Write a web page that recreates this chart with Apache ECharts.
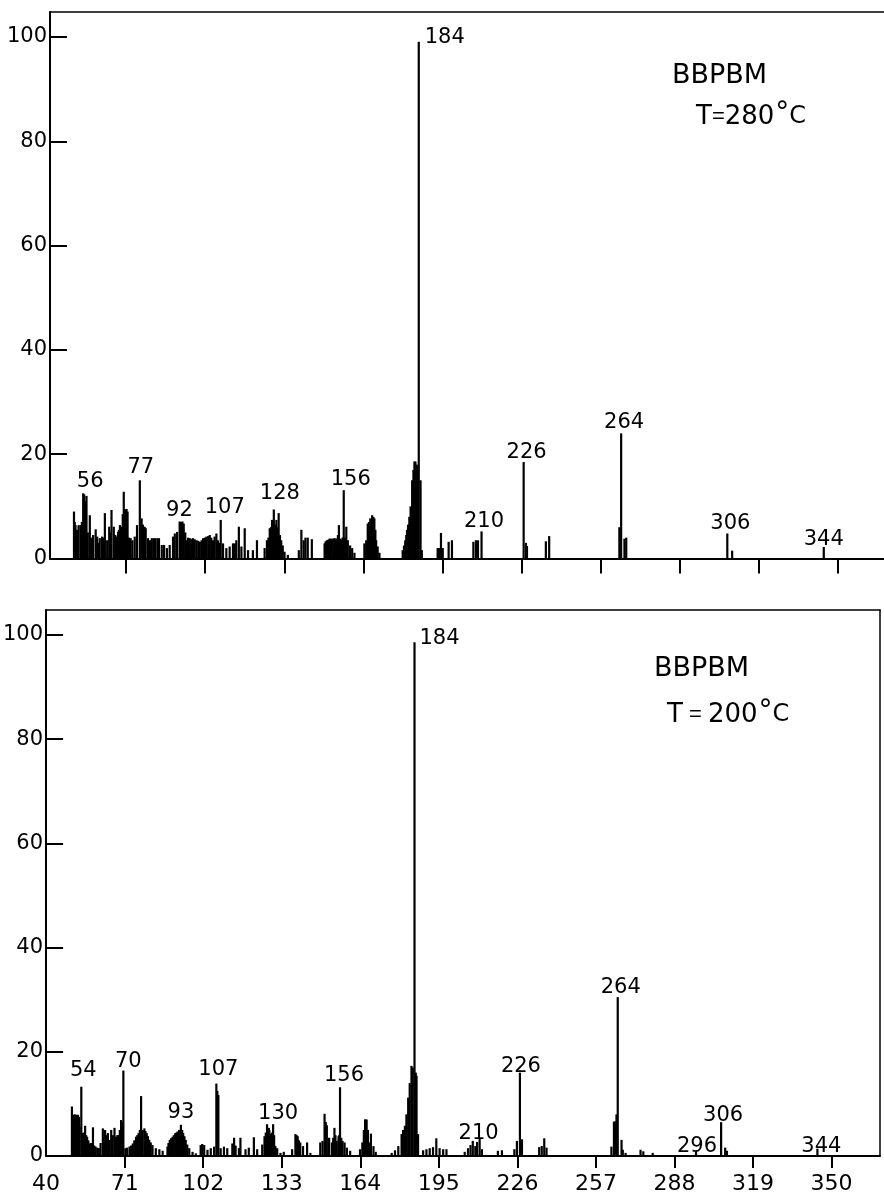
<!DOCTYPE html>
<html><head><meta charset="utf-8">
<script src="https://cdn.jsdelivr.net/npm/echarts@6/dist/echarts.min.js"></script>
<style>html,body{margin:0;padding:0;background:#fff}#c{width:884px;height:1203px}</style>
</head><body><div id="c"></div>
<script>
// ---------- DATA ----------
const xTickValues = [71, 102, 133, 164, 195, 226, 257, 288, 319, 350];
const xLabelValues = [40, 71, 102, 133, 164, 195, 226, 257, 288, 319, 350];
const yTickValues = [0, 20, 40, 60, 80, 100];

// Upper spectrum, T = 280 C (m/z positions as read on the drawn axis, relative intensity)
const topMz = [
  50.6, 50.9, 51.2, 51.8, 52.4, 53.2, 53.7, 54.2, 54.6, 55.0, 55.5, 56.0, 56.8, 57.4, 58.1, 59.1, 59.7, 60.2, 60.7, 61.6,
  62.2, 62.7, 63.6, 64.4, 64.9, 65.3, 66.2, 66.8, 67.3, 67.9, 68.2, 68.6, 69.2, 69.7, 70.1, 70.5, 70.9, 71.2, 71.6, 72.2,
  72.8, 73.5, 74.4, 75.3, 76.4, 77.1, 77.6, 78.0, 78.4, 78.7, 79.6, 80.4, 81.1, 81.9, 82.5, 83.3, 83.9, 85.0, 85.9, 87.0,
  88.1, 89.4, 90.1, 91.0, 92.0, 92.5, 93.1, 93.6, 94.2, 94.7, 95.3, 96.0, 96.6, 97.2, 97.9, 98.6, 99.3, 99.9, 100.6, 101.2,
  101.9, 102.5, 103.2, 103.8, 104.4, 105.1, 105.7, 106.4, 107.0, 107.6, 108.1, 109.0, 110.3, 111.6, 112.9, 113.6, 114.2, 115.2, 116.2, 117.5,
  118.8, 120.7, 122.3, 125.3, 126.2, 126.8, 127.3, 127.8, 128.2, 128.9, 129.4, 129.9, 130.3, 130.8, 131.3, 131.8, 132.4, 133.1, 134.4, 138.7,
  139.7, 140.6, 141.3, 142.2, 143.8, 148.8, 149.2, 149.7, 150.2, 150.7, 151.1, 151.6, 152.2, 152.7, 153.1, 153.6, 154.0, 154.4, 154.9, 155.3,
  155.8, 156.3, 156.8, 157.3, 157.9, 158.8, 159.6, 160.5, 164.4, 165.1, 165.7, 166.2, 166.7, 167.4, 167.9, 168.3, 168.7, 169.0, 169.6, 170.3,
  179.4, 179.9, 180.4, 180.8, 181.1, 181.5, 182.0, 182.5, 183.1, 183.6, 184.0, 184.4, 185.0, 185.7, 186.4, 186.9, 193.1, 193.6, 194.4, 195.1,
  197.4, 198.7, 207.1, 208.1, 208.9, 210.3, 226.8, 227.7, 228.1, 235.5, 236.8, 264.3, 265.0, 266.3, 267.0, 306.6, 308.5, 344.4
];
const topIntensity = [
  9.0, 7.0, 6.4, 5.5, 6.4, 6.4, 7.0, 12.5, 12.3, 11.0, 12.0, 5.0, 8.3, 4.0, 4.5, 5.6, 4.2, 3.0, 3.9, 4.2,
  4.0, 8.7, 3.5, 6.1, 5.0, 9.3, 6.1, 4.5, 4.2, 5.1, 5.5, 6.4, 6.1, 8.5, 12.8, 9.5, 9.3, 9.5, 9.0, 4.0,
  3.9, 3.5, 4.2, 6.4, 15.0, 7.7, 6.5, 6.1, 6.0, 5.8, 3.9, 3.5, 3.9, 3.9, 3.9, 3.9, 3.9, 2.6, 2.6, 2.0,
  2.6, 4.2, 4.8, 5.1, 7.1, 7.0, 7.1, 6.7, 5.0, 3.5, 4.0, 3.9, 3.7, 3.9, 3.7, 3.5, 3.4, 3.2, 3.5, 3.9,
  4.0, 4.2, 4.3, 4.5, 4.0, 3.5, 4.2, 4.8, 3.5, 3.0, 7.4, 2.9, 2.0, 2.3, 2.9, 2.9, 3.5, 6.1, 2.3, 5.8,
  1.6, 1.6, 3.5, 2.0, 3.5, 4.0, 5.8, 6.0, 7.4, 9.4, 6.5, 7.4, 6.0, 8.7, 4.5, 3.5, 2.5, 1.3, 0.7, 1.6,
  5.5, 3.5, 4.0, 4.0, 3.7, 2.9, 3.3, 3.5, 3.6, 3.8, 3.8, 3.8, 3.8, 3.9, 3.8, 3.8, 4.5, 6.4, 3.8, 3.5,
  4.0, 13.1, 4.0, 6.1, 3.5, 2.5, 2.0, 1.1, 2.9, 3.5, 6.7, 7.0, 7.7, 8.3, 8.0, 7.7, 5.5, 3.5, 2.3, 1.1,
  1.6, 2.5, 3.5, 4.5, 5.5, 6.5, 8.0, 10.0, 15.0, 17.0, 18.6, 18.6, 18.0, 99.1, 15.0, 1.6, 2.0, 2.0, 4.9, 2.0,
  3.2, 3.5, 3.2, 3.5, 3.5, 5.2, 18.5, 3.0, 2.4, 3.3, 4.3, 6.0, 24.0, 3.8, 4.0, 4.8, 1.5, 2.2
];
const topPeakLabels = ['56', '77', '92', '107', '128', '156', '184', '210', '226', '264', '306', '344'];
const topPeakLabelMz = [54.6, 76.4, 93.1, 108.1, 128.9, 156.3, 185.7, 210.3, 226.8, 265.0, 306.6, 344.4];

// Lower spectrum, T = 200 C
const bottomMz = [
  50.2, 50.9, 51.3, 51.7, 52.2, 52.6, 53.0, 53.2, 53.9, 54.5, 54.9, 55.4, 55.8, 56.2, 56.7, 57.2, 57.8, 58.5, 59.0, 59.5,
  60.2, 60.8, 61.5, 62.4, 62.9, 63.3, 63.8, 64.4, 65.0, 65.7, 66.3, 67.0, 67.6, 68.1, 68.6, 69.1, 69.6, 70.0, 70.5, 71.3,
  71.9, 72.9, 73.5, 74.2, 74.8, 75.5, 76.0, 76.5, 77.0, 77.5, 78.1, 78.8, 79.2, 79.7, 80.2, 80.7, 81.3, 82.0, 83.3, 84.7,
  86.0, 87.9, 88.3, 88.8, 89.3, 89.9, 90.4, 91.0, 91.5, 91.9, 92.5, 93.2, 93.7, 94.1, 94.6, 95.1, 95.7, 96.5, 97.8, 99.1,
  101.0, 101.6, 102.4, 103.7, 105.0, 106.3, 107.2, 107.6, 108.0, 108.9, 110.2, 111.5, 113.5, 114.2, 114.8, 116.1, 116.7, 118.7, 120.0, 122.0,
  123.3, 125.3, 126.2, 126.7, 127.2, 127.9, 128.1, 128.5, 129.1, 129.6, 130.0, 130.5, 131.2, 132.5, 133.8, 137.1, 138.4, 138.9, 139.3, 139.8,
  140.3, 141.4, 143.0, 144.3, 148.2, 149.1, 149.9, 150.4, 150.8, 151.7, 152.8, 153.3, 153.8, 154.2, 154.7, 155.4, 155.7, 156.0, 156.5, 157.0,
  157.8, 158.7, 160.0, 163.9, 164.8, 165.4, 165.9, 166.0, 166.5, 167.0, 167.4, 168.2, 169.2, 170.1, 176.4, 177.7, 179.0, 180.3, 180.9, 181.6,
  182.2, 182.9, 183.5, 184.2, 184.7, 185.4, 185.9, 186.2, 186.8, 188.8, 190.1, 191.4, 192.7, 194.0, 195.3, 196.7, 198.0, 205.2, 206.5, 207.5,
  208.4, 209.4, 210.1, 211.1, 212.0, 218.3, 219.9, 224.8, 225.8, 227.0, 227.8, 234.6, 235.6, 236.6, 237.5, 263.1, 264.1, 264.5, 264.8, 265.1,
  265.6, 267.1, 267.6, 268.7, 274.6, 275.7, 279.4, 296.5, 306.4, 308.0, 308.7, 344.4
];
const bottomIntensity = [
  9.5, 7.9, 8.0, 7.9, 7.9, 7.9, 7.5, 5.6, 13.3, 4.4, 4.5, 5.8, 4.0, 3.7, 3.0, 2.4, 2.5, 5.5, 2.0, 1.8,
  1.6, 1.5, 2.5, 5.3, 3.5, 5.0, 4.0, 4.4, 3.1, 5.0, 4.0, 5.4, 3.7, 4.0, 4.0, 5.0, 6.9, 6.5, 16.4, 1.5,
  1.6, 1.8, 2.0, 2.4, 3.0, 3.7, 4.0, 4.4, 5.0, 11.5, 5.0, 5.3, 4.8, 4.4, 3.8, 3.1, 2.6, 2.1, 1.5, 1.3,
  1.0, 1.8, 2.5, 3.1, 3.4, 3.7, 4.0, 4.4, 4.5, 4.7, 5.0, 6.0, 5.0, 4.4, 3.8, 3.1, 2.2, 1.5, 0.8, 0.5,
  2.1, 2.3, 2.1, 1.2, 1.5, 1.8, 13.9, 12.5, 11.7, 1.5, 1.8, 1.5, 2.4, 3.5, 2.0, 1.5, 3.5, 1.3, 1.6, 3.6,
  1.3, 2.2, 3.8, 4.5, 6.1, 5.4, 5.0, 4.2, 4.5, 6.1, 4.0, 1.9, 1.5, 0.6, 0.8, 1.3, 4.2, 4.0, 3.8, 3.0,
  2.6, 1.9, 2.6, 0.6, 2.6, 2.9, 8.1, 6.5, 5.9, 3.5, 2.6, 3.5, 5.4, 4.0, 2.9, 3.8, 4.0, 13.2, 3.5, 2.9,
  2.6, 1.6, 1.0, 1.3, 2.6, 5.0, 7.0, 7.0, 7.0, 5.0, 2.6, 4.3, 1.9, 0.8, 0.6, 1.1, 1.9, 4.2, 5.0, 5.8,
  8.0, 11.2, 14.0, 17.3, 17.0, 98.6, 16.0, 15.4, 4.2, 1.1, 1.3, 1.5, 1.7, 3.4, 1.5, 1.3, 1.3, 0.8, 1.5, 2.1,
  2.9, 1.9, 2.7, 3.3, 1.3, 1.0, 1.1, 1.3, 2.9, 16.0, 3.2, 1.7, 1.9, 3.4, 1.6, 1.8, 6.6, 6.6, 6.6, 8.0,
  30.5, 3.1, 1.2, 0.6, 1.2, 0.9, 0.6, 1.0, 6.5, 1.6, 1.0, 1.4
];
const bottomPeakLabels = ['54', '70', '93', '107', '130', '156', '184', '210', '226', '264', '296', '306', '344'];
const bottomPeakLabelMz = [53.9, 70.5, 93.2, 107.2, 129.6, 156.0, 185.4, 211.1, 227.0, 265.6, 296.5, 306.4, 344.4];

const topTitle = 'BBPBM';
const topTemperature = ['T', '=', '280', '°', 'C'];
const bottomTitle = 'BBPBM';
const bottomTemperature = ['T', ' = ', '200', '°', 'C'];

// ---------- STYLE ----------
const FONT = 'DejaVu Sans';
const INK = '#000';
const topLabelOffsets = {
  '56': [6, 1], '77': [1, 1], '92': [-3, 3], '107': [4, 1.5], '128': [6, -2], '156': [7, 2.5],
  '184': [26, 9], '210': [2.5, 4], '226': [3, 4], '264': [3, 3], '306': [3, 4], '344': [0, 6.5]
};
const bottomLabelOffsets = {
  '54': [2, -3], '70': [5, 4.5], '93': [0, 1.5], '107': [2, -0.5], '130': [5, 2.5], '156': [4, 1.5],
  '184': [25, 9.5], '210': [-1, 8], '226': [1, 7.5], '264': [3, 3.5], '296': [1, 9.5], '306': [2, 6.5], '344': [4, 11.5]
};

function pairs(xs, ys) { return xs.map((x, i) => [x, ys[i]]); }
function labelItems(texts, mzs, xs, ys, offsets) {
  return texts.map((t, i) => {
    const k = xs.indexOf(mzs[i]);
    return { value: [mzs[i], ys[k]], label: { formatter: t, offset: offsets[t] || [0, 0] } };
  });
}
function tempRich(parts) {
  return '{t|' + parts[0] + '}{eq|' + parts[1] + '}{t|' + parts[2] + '}{deg|' + parts[3] + '}{c|' + parts[4] + '}';
}
const tempRichStyles = {
  t: { fontFamily: FONT, fontSize: 26, fill: INK },
  eq: { fontFamily: 'Liberation Sans', fontSize: 22, fill: INK },
  deg: { fontFamily: FONT, fontSize: 28, fill: INK, verticalAlign: 'top', padding: [0, 0, 6, 1] },
  c: { fontFamily: FONT, fontSize: 24, fill: INK }
};

const axisLineStyle = { color: INK, width: 2 };
const chart = echarts.init(document.getElementById('c'), null, { renderer: 'canvas' });

function makeXAxis(grid, min, max, showLabels) {
  return [{
    type: 'value', gridIndex: grid, min: min, max: max, position: 'bottom',
    axisLine: { show: true, onZero: false, lineStyle: axisLineStyle },
    axisTick: { show: true, inside: false, length: showLabels ? 12 : 15, customValues: xTickValues, lineStyle: { color: INK, width: 2 } },
    axisLabel: { show: showLabels, customValues: xLabelValues, margin: 17, fontSize: 22, fontFamily: FONT, color: INK },
    splitLine: { show: false }
  }, {
    type: 'value', gridIndex: grid, min: min, max: max, position: 'top',
    axisLine: { show: true, onZero: false, lineStyle: { color: INK, width: 1.5 } },
    axisTick: { show: false }, axisLabel: { show: false }, splitLine: { show: false }
  }];
}
function makeYAxis(grid, withRight) {
  const arr = [{
    type: 'value', gridIndex: grid, min: 0, max: 104.8, position: 'left',
    axisLine: { show: true, onZero: false, lineStyle: axisLineStyle },
    axisTick: { show: true, inside: true, length: 17, customValues: yTickValues, lineStyle: { color: INK, width: 2 } },
    axisLabel: { show: true, customValues: yTickValues, margin: 3, fontSize: 21, fontFamily: FONT, color: INK },
    splitLine: { show: false }
  }];
  if (withRight) arr.push({
    type: 'value', gridIndex: grid, min: 0, max: 104.8, position: 'right',
    axisLine: { show: true, onZero: false, lineStyle: { color: INK, width: 1.5 } },
    axisTick: { show: false }, axisLabel: { show: false }, splitLine: { show: false }
  });
  return arr;
}

const barStyle = { color: INK };
const labelSeriesBase = {
  type: 'scatter', symbolSize: 0, itemStyle: { color: INK, opacity: 1 }, silent: true,
  label: { show: true, position: 'top', distance: 3, fontSize: 21, fontFamily: FONT, color: INK, opacity: 1, textBorderWidth: 0 }
};

chart.setOption({
  animation: false,
  backgroundColor: '#fff',
  grid: [
    { left: 50, right: 0, top: 12, bottom: 644.5, containLabel: false },
    { left: 42.5, right: 4, top: 610, bottom: 47, containLabel: false }
  ],
  xAxis: [].concat(makeXAxis(0, 41.2, 368, false), makeXAxis(1, 40, 369.1, true)),
  yAxis: [].concat(makeYAxis(0, false), makeYAxis(1, true)),
  series: [
    { type: 'bar', xAxisIndex: 0, yAxisIndex: 0, barWidth: 2.2, itemStyle: barStyle, data: pairs(topMz, topIntensity) },
    { type: 'bar', xAxisIndex: 2, yAxisIndex: 1, barWidth: 2.2, itemStyle: barStyle, data: pairs(bottomMz, bottomIntensity) },
    Object.assign({}, labelSeriesBase, { xAxisIndex: 0, yAxisIndex: 0,
      data: labelItems(topPeakLabels, topPeakLabelMz, topMz, topIntensity, topLabelOffsets) }),
    Object.assign({}, labelSeriesBase, { xAxisIndex: 2, yAxisIndex: 1,
      data: labelItems(bottomPeakLabels, bottomPeakLabelMz, bottomMz, bottomIntensity, bottomLabelOffsets) })
  ],
  graphic: [
    { type: 'text', x: 672, y: 76, style: { text: topTitle, font: '27px "DejaVu Sans"', fill: INK, verticalAlign: 'middle' } },
    { type: 'text', x: 696, y: 117, style: { text: tempRich(topTemperature), rich: tempRichStyles, verticalAlign: 'middle' } },
    { type: 'text', x: 654, y: 669, style: { text: bottomTitle, font: '27px "DejaVu Sans"', fill: INK, verticalAlign: 'middle' } },
    { type: 'text', x: 667, y: 715, style: { text: tempRich(bottomTemperature), rich: tempRichStyles, verticalAlign: 'middle' } }
  ]
});
</script>
</body></html>
